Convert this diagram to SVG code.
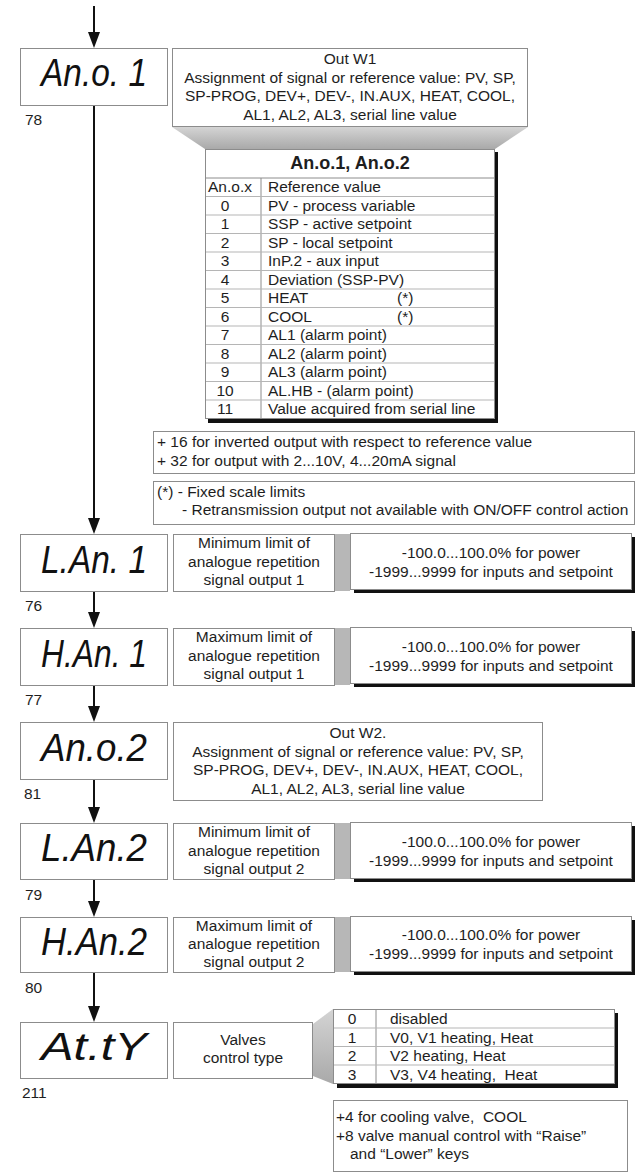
<svg xmlns="http://www.w3.org/2000/svg" width="637" height="1176" viewBox="0 0 637 1176">
<defs>
<style>
text{font-family:"Liberation Sans",Arial,sans-serif;fill:#1e1e1e;font-size:15.5px}
.c{text-anchor:middle}
.lcd{font-style:italic;font-size:39px;fill:#111}
.box{fill:#fff;stroke:#8c8c8c;stroke-width:1}
.sh{fill:#111}
.bar{fill:#b7b7b7}
.rl{stroke:#b5b5b5;stroke-width:1}
.conn{stroke:#111;stroke-width:2;fill:none;marker-end:url(#ah)}
.ttl{font-weight:bold;font-size:18px}
</style>
<marker id="ah" markerUnits="userSpaceOnUse" viewBox="0 0 16 12" markerWidth="16" markerHeight="12" refX="8" refY="6" orient="auto">
<path d="M0,0 L16,6 L0,12 z" fill="#111"/>
</marker>
<linearGradient id="fg" x1="0" y1="0" x2="0" y2="1">
<stop offset="0" stop-color="#d4d4d4"/>
<stop offset="1" stop-color="#a9a9a9"/>
</linearGradient>
</defs>
<rect width="637" height="1176" fill="#fff"/>

<g id="connectors">
<line class="conn" x1="94" y1="6" x2="94" y2="40"/>
<line class="conn" x1="94" y1="106" x2="94" y2="526"/>
<line class="conn" x1="94" y1="591" x2="94" y2="620"/>
<line class="conn" x1="94" y1="685" x2="94" y2="714"/>
<line class="conn" x1="94" y1="779" x2="94" y2="815"/>
<line class="conn" x1="94" y1="879" x2="94" y2="909"/>
<line class="conn" x1="94" y1="972" x2="94" y2="1014"/>
</g>

<g id="ano1">
<rect class="box" x="20.5" y="48.5" width="147" height="57"/>
<text class="lcd" x="41" y="86" textLength="106" lengthAdjust="spacingAndGlyphs">An.o. 1</text>
<text x="25" y="125">78</text>
</g>

<g id="ano1-desc">
<polygon points="172,127 528,127 495,149 205,149" fill="url(#fg)"/>
<rect class="box" x="172.5" y="48.5" width="355" height="78"/>
<text class="c" x="350" y="64">Out W1</text>
<text class="c" x="350" y="83">Assignment of signal or reference value: PV, SP,</text>
<text class="c" x="350" y="101">SP-PROG, DEV+, DEV-, IN.AUX, HEAT, COOL,</text>
<text class="c" x="350" y="120">AL1, AL2, AL3, serial line value</text>
</g>

<g id="ano-table">
<rect class="sh" x="208" y="152" width="290" height="271"/>
<rect class="box" x="205.5" y="149.5" width="289" height="269"/>
<line x1="205" y1="178" x2="495" y2="178" stroke="#8c8c8c" stroke-width="1"/>
<line x1="261" y1="178" x2="261" y2="419" stroke="#8c8c8c" stroke-width="1"/>
<g class="rl">
<line x1="206" y1="196.5" x2="494" y2="196.5"/>
<line x1="206" y1="215" x2="494" y2="215"/>
<line x1="206" y1="233.5" x2="494" y2="233.5"/>
<line x1="206" y1="252" x2="494" y2="252"/>
<line x1="206" y1="270.5" x2="494" y2="270.5"/>
<line x1="206" y1="289" x2="494" y2="289"/>
<line x1="206" y1="307.5" x2="494" y2="307.5"/>
<line x1="206" y1="326" x2="494" y2="326"/>
<line x1="206" y1="344.5" x2="494" y2="344.5"/>
<line x1="206" y1="363" x2="494" y2="363"/>
<line x1="206" y1="381.5" x2="494" y2="381.5"/>
<line x1="206" y1="400" x2="494" y2="400"/>
</g>
<text class="c ttl" x="350" y="169">An.o.1, An.o.2</text>
<text x="208" y="192">An.o.x</text><text x="268" y="192">Reference value</text>
<text class="c" x="225" y="210.5">0</text><text x="268" y="210.5">PV - process variable</text>
<text class="c" x="225" y="229">1</text><text x="268" y="229">SSP - active setpoint</text>
<text class="c" x="225" y="247.5">2</text><text x="268" y="247.5">SP - local setpoint</text>
<text class="c" x="225" y="266">3</text><text x="268" y="266">InP.2 - aux input</text>
<text class="c" x="225" y="284.5">4</text><text x="268" y="284.5">Deviation (SSP-PV)</text>
<text class="c" x="225" y="303">5</text><text x="268" y="303">HEAT</text><text x="397" y="303">(*)</text>
<text class="c" x="225" y="321.5">6</text><text x="268" y="321.5">COOL</text><text x="397" y="321.5">(*)</text>
<text class="c" x="225" y="340">7</text><text x="268" y="340">AL1 (alarm point)</text>
<text class="c" x="225" y="358.5">8</text><text x="268" y="358.5">AL2 (alarm point)</text>
<text class="c" x="225" y="377">9</text><text x="268" y="377">AL3 (alarm point)</text>
<text class="c" x="225" y="395.5">10</text><text x="268" y="395.5">AL.HB - (alarm point)</text>
<text class="c" x="225" y="414">11</text><text x="268" y="414">Value acquired from serial line</text>
</g>

<g id="note1">
<rect class="box" x="153.5" y="431.5" width="481" height="42"/>
<text x="157" y="447">+ 16 for inverted output with respect to reference value</text>
<text x="157" y="466">+ 32 for output with 2...10V, 4...20mA signal</text>
</g>

<g id="note2">
<rect class="box" x="153.5" y="481.5" width="481" height="43"/>
<text x="157" y="497">(*) - Fixed scale limits</text>
<text x="182" y="515">- Retransmission output not available with ON/OFF control action</text>
</g>

<g id="lan1">
<rect class="box" x="20.5" y="534.5" width="147" height="57"/>
<text class="lcd" x="41" y="573" textLength="106" lengthAdjust="spacingAndGlyphs">L.An. 1</text>
<text x="25" y="611">76</text>
<rect class="box" x="173.5" y="534.5" width="161" height="57"/>
<text class="c" x="254" y="548">Minimum limit of</text>
<text class="c" x="254" y="567">analogue repetition</text>
<text class="c" x="254" y="585">signal output 1</text>
<rect class="bar" x="335" y="534" width="15" height="57"/>
<rect class="sh" x="354" y="537" width="281" height="56"/>
<rect class="box" x="350.5" y="533.5" width="281" height="56"/>
<text class="c" x="491" y="558">-100.0...100.0% for power</text>
<text class="c" x="491" y="577">-1999...9999 for inputs and setpoint</text>
</g>

<g id="han1">
<rect class="box" x="20.5" y="628.5" width="147" height="57"/>
<text class="lcd" x="41" y="667" textLength="106" lengthAdjust="spacingAndGlyphs">H.An. 1</text>
<text x="25" y="705">77</text>
<rect class="box" x="173.5" y="628.5" width="161" height="57"/>
<text class="c" x="254" y="642">Maximum limit of</text>
<text class="c" x="254" y="661">analogue repetition</text>
<text class="c" x="254" y="679">signal output 1</text>
<rect class="bar" x="335" y="628" width="15" height="57"/>
<rect class="sh" x="354" y="631" width="281" height="56"/>
<rect class="box" x="350.5" y="627.5" width="281" height="56"/>
<text class="c" x="491" y="652">-100.0...100.0% for power</text>
<text class="c" x="491" y="671">-1999...9999 for inputs and setpoint</text>
</g>

<g id="ano2">
<rect class="box" x="20.5" y="722.5" width="147" height="57"/>
<text class="lcd" x="41" y="761" textLength="106" lengthAdjust="spacingAndGlyphs">An.o.2</text>
<text x="24" y="799">81</text>
<rect class="box" x="173.5" y="722.5" width="369" height="78"/>
<text class="c" x="358" y="738">Out W2.</text>
<text class="c" x="358" y="757">Assignment of signal or reference value: PV, SP,</text>
<text class="c" x="358" y="775">SP-PROG, DEV+, DEV-, IN.AUX, HEAT, COOL,</text>
<text class="c" x="358" y="794">AL1, AL2, AL3, serial line value</text>
</g>

<g id="lan2">
<rect class="box" x="20.5" y="823.5" width="147" height="56"/>
<text class="lcd" x="41" y="861" textLength="106" lengthAdjust="spacingAndGlyphs">L.An.2</text>
<text x="25" y="900">79</text>
<rect class="box" x="173.5" y="823.5" width="161" height="56"/>
<text class="c" x="254" y="837">Minimum limit of</text>
<text class="c" x="254" y="856">analogue repetition</text>
<text class="c" x="254" y="874">signal output 2</text>
<rect class="bar" x="335" y="823" width="15" height="56"/>
<rect class="sh" x="354" y="826" width="281" height="56"/>
<rect class="box" x="350.5" y="822.5" width="281" height="56"/>
<text class="c" x="491" y="847">-100.0...100.0% for power</text>
<text class="c" x="491" y="866">-1999...9999 for inputs and setpoint</text>
</g>

<g id="han2">
<rect class="box" x="20.5" y="917.5" width="147" height="55"/>
<text class="lcd" x="41" y="955" textLength="106" lengthAdjust="spacingAndGlyphs">H.An.2</text>
<text x="25" y="993">80</text>
<rect class="box" x="173.5" y="917.5" width="161" height="55"/>
<text class="c" x="254" y="931">Maximum limit of</text>
<text class="c" x="254" y="949">analogue repetition</text>
<text class="c" x="254" y="967">signal output 2</text>
<rect class="bar" x="335" y="917" width="15" height="55"/>
<rect class="sh" x="354" y="920" width="281" height="55"/>
<rect class="box" x="350.5" y="916.5" width="281" height="55"/>
<text class="c" x="491" y="940">-100.0...100.0% for power</text>
<text class="c" x="491" y="959">-1999...9999 for inputs and setpoint</text>
</g>

<g id="atty">
<rect class="box" x="20.5" y="1022.5" width="147" height="56"/>
<text class="lcd" x="41" y="1060" textLength="106" lengthAdjust="spacingAndGlyphs">At.tY</text>
<text x="22" y="1098">211</text>
<rect class="box" x="173.5" y="1022.5" width="139" height="56"/>
<text class="c" x="243" y="1045">Valves</text>
<text class="c" x="243" y="1063">control type</text>
<polygon points="313,1024 333,1009 333,1084 313,1076" fill="url(#fg)"/>
</g>

<g id="atty-table">
<rect class="sh" x="337" y="1013" width="281" height="75"/>
<rect class="box" x="333.5" y="1009.5" width="281" height="74"/>
<line x1="376" y1="1009" x2="376" y2="1084" stroke="#8c8c8c" stroke-width="1"/>
<g class="rl">
<line x1="334" y1="1028" x2="614" y2="1028"/>
<line x1="334" y1="1046.5" x2="614" y2="1046.5"/>
<line x1="334" y1="1065" x2="614" y2="1065"/>
</g>
<text class="c" x="352" y="1024">0</text><text x="390" y="1024">disabled</text>
<text class="c" x="352" y="1042.5">1</text><text x="390" y="1042.5">V0, V1 heating, Heat</text>
<text class="c" x="352" y="1061">2</text><text x="390" y="1061">V2 heating, Heat</text>
<text class="c" x="352" y="1079.5">3</text><text x="390" y="1079.5" xml:space="preserve">V3, V4 heating,  Heat</text>
</g>

<g id="note3">
<rect class="box" x="333.5" y="1100.5" width="294" height="71"/>
<text x="336" y="1122" xml:space="preserve">+4 for cooling valve,  COOL</text>
<text x="336" y="1141">+8 valve manual control with “Raise”</text>
<text x="350" y="1159">and “Lower” keys</text>
</g>
</svg>
